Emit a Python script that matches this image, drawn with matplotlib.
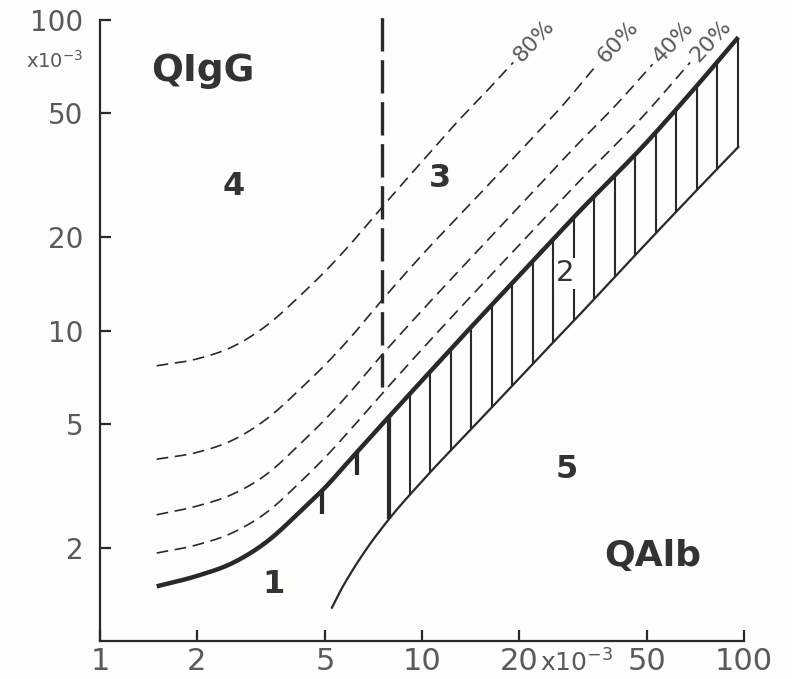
import numpy as np
import matplotlib
matplotlib.use('Agg')
import matplotlib.pyplot as plt
from matplotlib import rcParams

rcParams['font.family'] = ['DejaVu Sans']
rcParams['mathtext.default'] = 'regular'

# all quotients in units of 10^-3
# upper reference line (Qlim)
lim_x = [1.5, 2, 2.6, 3.3, 4.2, 5, 6, 7.4, 10, 15, 20, 30, 50, 70, 96]
lim_y = [1.50, 1.62, 1.79, 2.09, 2.62, 3.12, 3.85, 4.9, 6.9, 10.9, 15.0, 23.5, 40.5, 60, 88]

# lower reference line
low_x = [5.25, 5.6, 6.0, 6.75, 7.9, 10, 15, 20, 25, 30, 40, 54, 72, 96]
low_y = [1.28, 1.46, 1.65, 1.99, 2.47, 3.27, 5.1, 7.0, 8.95, 10.9, 15.0, 20.9, 28.6, 39.0]

# intrathecal fraction lines
p20_x = [1.5, 2, 2.6, 3.3, 4.2, 5, 6, 7.4, 10, 15, 20, 30, 50, 68]
p20_y = [1.92, 2.04, 2.24, 2.6, 3.26, 3.9, 4.8, 6.15, 8.7, 13.7, 18.8, 29.4, 50.6, 73]
p40_x = [1.5, 2, 2.6, 3.3, 4.2, 5, 6, 7.4, 10, 15, 20, 30, 40, 52]
p40_y = [2.55, 2.72, 2.98, 3.45, 4.33, 5.17, 6.35, 8.2, 11.6, 18.2, 25.0, 39.2, 53.2, 72]
p60_x = [1.5, 2, 2.6, 3.3, 4.2, 5, 6, 7.4, 10, 15, 20, 27, 35]
p60_y = [3.85, 4.05, 4.45, 5.2, 6.5, 7.75, 9.5, 12.3, 17.5, 27.3, 37.5, 52.3, 72]
p80_x = [1.5, 2, 2.6, 3.3, 4.2, 5, 6, 7.4, 10, 13, 16, 19.2]
p80_y = [7.7, 8.1, 8.9, 10.4, 13.0, 15.5, 19.0, 24.5, 35.0, 47.5, 59.5, 73]
pct_labels = ['20%', '40%', '60%', '80%']

# blood-CSF barrier limit (vertical dashed line)
barrier_x = 7.5
barrier_y = [6.6, 104]

# short marks below Qlim
mark_x = [4.9, 6.3]

xticks = [1, 2, 5, 10, 20, 50, 100]
xlabels = ['1', '2', '5', '10', '20', '50', '100']
yticks = [2, 5, 10, 20, 50, 100]
ylabels = ['2', '5', '10', '20', '50', '100']

ink = '#262b28'
grey = '#5a5a5a'
paper = '#fdfdf9'


def smooth(xs, ys, n=300):
    # cubic hermite through the read points, in log-log space
    lx, ly = np.log(xs), np.log(ys)
    d = np.gradient(ly, lx)
    t = np.linspace(lx[0], lx[-1], n)
    i = np.clip(np.searchsorted(lx, t) - 1, 0, len(lx) - 2)
    h = lx[i + 1] - lx[i]
    s = (t - lx[i]) / h
    y = ((2*s**3 - 3*s**2 + 1) * ly[i] + (s**3 - 2*s**2 + s) * h * d[i]
         + (-2*s**3 + 3*s**2) * ly[i + 1] + (s**3 - s**2) * h * d[i + 1])
    return np.exp(t), np.exp(y)


lim_sx, lim_sy = smooth(lim_x, lim_y)
low_sx, low_sy = smooth(low_x, low_y)


def on_curve(x, sx, sy):
    return np.exp(np.interp(np.log(x), np.log(sx), np.log(sy)))


fig = plt.figure(figsize=(7.92, 6.79), dpi=100, facecolor=paper)
ax = fig.add_axes([100/792, 38/679, 644/792, 621/679])
ax.set_facecolor(paper)
ax.set_xscale('log'); ax.set_yscale('log')
ax.set_xlim(1, 100); ax.set_ylim(1, 100)

# hatched zone between the two reference lines
hatch_x = np.geomspace(7.9, 95.8, 18)
for i, hx in enumerate(hatch_x):
    ax.plot([hx, hx], [on_curve(hx, low_sx, low_sy), on_curve(hx, lim_sx, lim_sy)],
            color=ink, lw=3.0 if i == 0 else 1.5, solid_capstyle='butt')
for mx in mark_x:
    qy = on_curve(mx, lim_sx, lim_sy)
    ax.plot([mx, mx], [qy / 1.19, qy], color=ink, lw=3.0, solid_capstyle='butt')

ax.plot(lim_sx, lim_sy, color=ink, lw=3.2, solid_capstyle='butt')
ax.plot(low_sx, low_sy, color=ink, lw=1.6)

for xs, ys, lab in zip([p20_x, p40_x, p60_x, p80_x], [p20_y, p40_y, p60_y, p80_y], pct_labels):
    sx, sy = smooth(xs, ys)
    ax.plot(sx, sy, color=ink, lw=1.2, ls=(0, (7, 4)))
    ax.text(xs[-1] * 1.03, ys[-1] * 1.03, lab, rotation=47, rotation_mode='anchor',
            ha='left', va='center', fontsize=16, color=grey)

ax.plot([barrier_x, barrier_x], barrier_y, color=ink, lw=2.4, ls=(0, (10, 2.6)), clip_on=False)

# region labels
ax.text(2.09, 68.5, 'QIgG', fontsize=27, fontweight='bold', color='#333', ha='center', va='center')
ax.text(52.2, 1.88, 'QAlb', fontsize=26, fontweight='bold', color='#333', ha='center', va='center')
for s, x, y in [('1', 3.47, 1.52), ('3', 11.4, 30.9), ('4', 2.61, 29.1), ('5', 28.2, 3.56)]:
    ax.text(x, y, s, fontsize=23, fontweight='bold', color='#333', ha='center', va='center')
ax.text(27.8, 15.3, '2', fontsize=21, color='#333', ha='center', va='center',
        bbox=dict(boxstyle='square,pad=0.05', fc=paper, ec='none'))

# axes
for side in ['top', 'right']:
    ax.spines[side].set_visible(False)
for side in ['left', 'bottom']:
    ax.spines[side].set_linewidth(1.6)
    ax.spines[side].set_color(ink)
ax.minorticks_off()
ax.set_xticks(xticks); ax.set_xticklabels(xlabels)
ax.set_yticks(yticks); ax.set_yticklabels(ylabels)
ax.tick_params(direction='in', length=8, width=1.6, color=ink, labelcolor=grey)
ax.tick_params(axis='x', labelsize=22, pad=4)
ax.tick_params(axis='y', labelsize=20, pad=12)
ax.minorticks_off()

ax.text(23.3, -0.036, 'x10$^{-3}$', transform=ax.get_xaxis_transform(),
        fontsize=18, color=grey, ha='left', va='center')
ax.text(-0.025, 74, 'x10$^{-3}$', transform=ax.get_yaxis_transform(),
        fontsize=14, color=grey, ha='right', va='center')

fig.savefig('out.png', dpi=100, facecolor=fig.get_facecolor())
